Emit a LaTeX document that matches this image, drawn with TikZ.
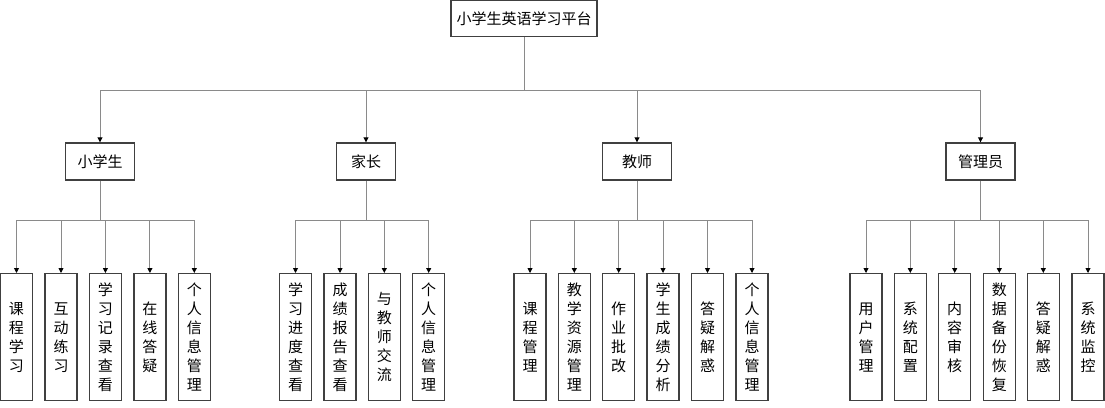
\documentclass[tikz,border=0pt]{standalone}
\usepackage{fontspec}
\setmainfont{Noto Sans CJK SC}
\usetikzlibrary{arrows.meta}
\definecolor{boxc}{HTML}{404040}
\definecolor{linec}{HTML}{8A8A8A}
\tikzset{
  box/.style={draw=boxc, line width=1.4pt, fill=white, inner sep=0pt, font=\fontsize{15}{19}\selectfont},
  topbox/.style={box, minimum width=146pt, minimum height=36pt},
  midbox/.style={box, minimum width=69pt, minimum height=37pt},
  leafbox/.style={box, minimum width=32pt, minimum height=127pt, align=center, anchor=north},
  link/.style={draw=linec, line width=0.9pt},
  arr/.style={link, -{Triangle[length=5pt,width=5pt,color=black]}}
}
\begin{document}
\begin{tikzpicture}[x=1pt,y=-1pt]
\useasboundingbox (0,0) rectangle (1105,407);
% root
\node[topbox] (root) at (524,18.5) {小学生英语学习平台};
% level 2
\node[midbox] (stu) at (100,161.5) {小学生};
\node[midbox, minimum width=59pt] (par) at (366,161.5) {家长};
\node[midbox] (tea) at (637,161.5) {教师};
\node[midbox] (adm) at (980.5,161.5) {管理员};
\coordinate (bus) at (524,90.5);
\draw[link] (root.south) -- (bus);
\foreach \n in {stu,par,tea,adm} \draw[arr] (bus) -| (\n.north);
% leaves: student
\node[leafbox] (s1) at (16.5,273) {课\\程\\学\\习};
\node[leafbox] (s2) at (61,273) {互\\动\\练\\习};
\node[leafbox] (s3) at (105.4,273) {学\\习\\记\\录\\查\\看};
\node[leafbox] (s4) at (149.9,273) {在\\线\\答\\疑};
\node[leafbox] (s5) at (194.3,273) {个\\人\\信\\息\\管\\理};
% parent
\node[leafbox] (p1) at (295.5,273) {学\\习\\进\\度\\查\\看};
\node[leafbox] (p2) at (340,273) {成\\绩\\报\\告\\查\\看};
\node[leafbox] (p3) at (384.3,273) {与\\教\\师\\交\\流};
\node[leafbox] (p4) at (428.7,273) {个\\人\\信\\息\\管\\理};
% teacher
\node[leafbox] (t1) at (530,273) {课\\程\\管\\理};
\node[leafbox] (t2) at (574.3,273) {教\\学\\资\\源\\管\\理};
\node[leafbox] (t3) at (618.7,273) {作\\业\\批\\改};
\node[leafbox] (t4) at (663,273) {学\\生\\成\\绩\\分\\析};
\node[leafbox] (t5) at (707.5,273) {答\\疑\\解\\惑};
\node[leafbox] (t6) at (752,273) {个\\人\\信\\息\\管\\理};
% admin
\node[leafbox] (a1) at (866,273) {用\\户\\管\\理};
\node[leafbox] (a2) at (910.3,273) {系\\统\\配\\置};
\node[leafbox] (a3) at (954.7,273) {内\\容\\审\\核};
\node[leafbox] (a4) at (999.3,273) {数\\据\\备\\份\\恢\\复};
\node[leafbox] (a5) at (1043.3,273) {答\\疑\\解\\惑};
\node[leafbox] (a6) at (1088,273) {系\\统\\监\\控};
% sub buses
\coordinate (sb) at (stu.south |- 0,220.7);
\coordinate (pb) at (par.south |- 0,220.7);
\coordinate (tb) at (tea.south |- 0,220.7);
\coordinate (ab) at (adm.south |- 0,220.7);
\draw[link] (stu.south) -- (sb);
\draw[link] (par.south) -- (pb);
\draw[link] (tea.south) -- (tb);
\draw[link] (adm.south) -- (ab);
\foreach \n in {s1,s2,s3,s4,s5} \draw[arr] (sb) -| (\n.north);
\foreach \n in {p1,p2,p3,p4} \draw[arr] (pb) -| (\n.north);
\foreach \n in {t1,t2,t3,t4,t5,t6} \draw[arr] (tb) -| (\n.north);
\foreach \n in {a1,a2,a3,a4,a5,a6} \draw[arr] (ab) -| (\n.north);
\end{tikzpicture}
\end{document}
